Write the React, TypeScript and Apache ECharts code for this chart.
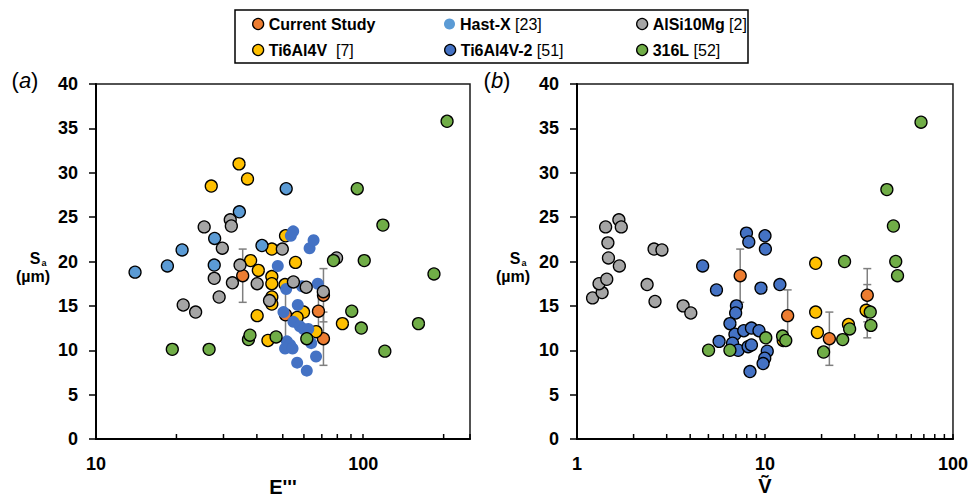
import React, { useEffect, useRef } from 'react';
import * as echarts from 'echarts';

const FONT = "'Liberation Sans', Arial, Helvetica, sans-serif";

// ---------- Panel (a): x = E''' ----------
const currentA = [[35.4, 18.4], [51.2, 14.0], [68.0, 14.4], [71.0, 16.2], [71.0, 11.3]];
const currentErr = [3.0, 2.9, 3.0, 3.0, 3.0];
const hastxA = [[14.0, 18.8], [18.5, 19.5], [21.0, 21.3], [27.8, 22.6], [27.7, 19.6], [34.4, 25.6], [41.8, 21.8], [51.5, 28.2]];
const alsiA = [[25.4, 23.9], [31.8, 24.7], [32.1, 24.0], [29.7, 21.5], [27.7, 18.1], [28.9, 16.0], [21.2, 15.1], [23.6, 14.3], [32.4, 17.6], [34.6, 19.6], [40.1, 17.5], [44.6, 15.6], [49.8, 21.4], [54.8, 17.7], [61.2, 17.1], [70.9, 16.6], [79.5, 20.4]];
const ti64A = [[34.3, 31.0], [36.9, 29.3], [27.0, 28.5], [45.5, 21.4], [51.2, 22.9], [37.9, 20.1], [40.5, 19.0], [45.5, 18.3], [45.5, 17.5], [45.5, 16.0], [45.5, 15.2], [40.1, 13.9], [44.0, 11.1], [55.8, 19.9], [51.0, 17.4], [59.8, 14.3], [56.6, 13.7], [66.6, 12.1], [83.6, 13.0]];
const ti642A = [[53.6, 22.9], [54.7, 23.4], [63.0, 21.5], [65.2, 22.4], [47.9, 19.5], [51.5, 16.9], [59.0, 17.2], [67.6, 17.5], [50.3, 14.3], [56.9, 15.1], [54.8, 13.2], [57.9, 12.7], [59.8, 12.4], [62.3, 12.4], [63.9, 10.8], [51.8, 11.0], [53.3, 10.6], [51.0, 10.2], [54.4, 10.2], [66.6, 9.3], [56.6, 8.6], [61.5, 7.7]];
const ss316A = [[19.3, 10.1], [26.5, 10.1], [37.2, 11.2], [37.7, 11.7], [47.2, 11.5], [61.5, 11.3], [77.4, 20.1], [100.9, 20.1], [90.6, 14.4], [98.4, 12.5], [161, 13.0], [120.5, 9.9], [184, 18.6], [95, 28.2], [118.5, 24.1], [206, 35.8]];

// ---------- Panel (b): x = V~ ----------
const currentB = [[7.38, 18.4], [13.2, 13.9], [35.0, 14.4], [35.0, 16.2], [22.0, 11.3]];
const alsiB = [[1.21, 15.9], [1.36, 16.5], [1.31, 17.5], [1.44, 18.0], [1.68, 19.5], [1.47, 20.4], [1.46, 22.1], [1.42, 23.9], [1.67, 24.7], [1.72, 23.9], [2.57, 21.4], [2.83, 21.3], [2.36, 17.4], [2.6, 15.5], [3.67, 15.0], [4.03, 14.2]];
const ti64B = [[18.6, 19.8], [18.6, 14.3], [19.0, 12.0], [27.8, 12.9], [12.5, 11.1], [34.5, 14.5]];
const ti642B = [[7.97, 23.2], [8.2, 22.2], [10.0, 22.9], [10.05, 21.4], [4.66, 19.5], [5.52, 16.8], [9.52, 17.0], [12.0, 17.4], [7.05, 15.0], [6.98, 14.2], [6.51, 13.0], [6.92, 11.8], [7.71, 12.2], [8.47, 12.5], [9.29, 12.2], [5.7, 11.0], [6.72, 10.8], [7.2, 10.0], [8.13, 10.4], [8.47, 10.6], [10.28, 9.9], [9.97, 9.1], [9.77, 8.5], [8.32, 7.6]];
const ss316B = [[5.01, 10.0], [6.51, 10.0], [10.1, 11.4], [12.4, 11.6], [12.9, 11.1], [20.5, 9.8], [25.9, 11.2], [28.2, 12.4], [26.5, 20.0], [36.3, 14.3], [36.6, 12.8], [49.6, 20.0], [50.7, 18.4], [48.2, 24.0], [44.5, 28.1], [67.6, 35.7]];

// minor tick positions on the log x axes
const minorTicksA = [20, 30, 40, 50, 60, 70, 80, 90, 200];
const minorTicksB = [2, 3, 4, 5, 6, 7, 8, 9, 20, 30, 40, 50, 60, 70, 80, 90];

const NAMES = ['Current Study', 'Hast-X', 'AlSi10Mg', 'Ti6Al4V', 'Ti6Al4V-2', '316L'];
const REFS = ['', '[23]', '[2]', '[7]', '[51]', '[52]'];
const COLORS: Record<string, string> = {
  'Current Study': '#ED7D31',
  'Hast-X': '#5B9BD5',
  'AlSi10Mg': '#A5A5A5',
  'Ti6Al4V': '#FFC000',
  'Ti6Al4V-2': '#4472C4',
  '316L': '#70AD47',
};

function scatter(name: string, data: number[][], idx: number, border = true, z = 3) {
  return {
    type: 'scatter',
    name,
    xAxisIndex: idx,
    yAxisIndex: idx,
    data,
    symbol: 'circle',
    symbolSize: 12,
    z,
    itemStyle: {
      color: COLORS[name],
      borderColor: border ? '#000' : COLORS[name],
      borderWidth: border ? 1.3 : 0,
      opacity: 1,
    },
    emphasis: { disabled: true },
  };
}

function errorBars(data: number[][], idx: number) {
  return {
    type: 'custom',
    name: 'errbars' + idx,
    xAxisIndex: idx,
    yAxisIndex: idx,
    data: data.map((d, i) => [d[0], d[1], currentErr[i]]),
    encode: { x: 0, y: 1 },
    silent: true,
    z: 2,
    renderItem: (params: any, api: any) => {
      const x = api.value(0);
      const y = api.value(1);
      const e = api.value(2);
      const t = api.coord([x, y + e]);
      const b = api.coord([x, y - e]);
      const w = 4;
      const st = { stroke: '#7F7F7F', lineWidth: 1.5 };
      return {
        type: 'group',
        children: [
          { type: 'line', shape: { x1: t[0], y1: t[1], x2: b[0], y2: b[1] }, style: st },
          { type: 'line', shape: { x1: t[0] - w, y1: t[1], x2: t[0] + w, y2: t[1] }, style: st },
          { type: 'line', shape: { x1: b[0] - w, y1: b[1], x2: b[0] + w, y2: b[1] }, style: st },
        ],
      };
    },
  };
}

function minorTicks(vals: number[], idx: number) {
  return {
    type: 'custom',
    name: 'minor' + idx,
    xAxisIndex: idx,
    yAxisIndex: idx,
    data: vals.map((v) => [v, 0]),
    encode: { x: 0, y: 1 },
    silent: true,
    z: 5,
    renderItem: (params: any, api: any) => {
      const p = api.coord([api.value(0), 0]);
      return {
        type: 'line',
        shape: { x1: p[0], y1: p[1], x2: p[0], y2: p[1] - 5 },
        style: { stroke: '#000', lineWidth: 1.5 },
      };
    },
  };
}

const isPow10 = (v: number) => Math.abs(Math.log10(v) - Math.round(Math.log10(v))) < 1e-6;

function xAxis(idx: number, min: number, max: number) {
  return {
    type: 'log',
    logBase: 10,
    gridIndex: idx,
    min,
    max,
    axisLine: { onZero: false, lineStyle: { color: '#000', width: 2 } },
    axisTick: { inside: true, length: 5, lineStyle: { color: '#000', width: 1.5 } },
    axisLabel: {
      margin: 16,
      color: '#000',
      fontFamily: FONT,
      fontWeight: 'bold',
      fontSize: 18,
      formatter: (v: number) => (isPow10(v) ? String(Math.round(v)) : ''),
    },
    splitLine: { show: false },
    minorTick: { show: false },
  };
}

function yAxis(idx: number) {
  return {
    type: 'value',
    gridIndex: idx,
    min: 0,
    max: 40,
    interval: 5,
    axisLine: { show: true, onZero: false, lineStyle: { color: '#000', width: 2 } },
    axisTick: { show: true, inside: false, length: 7, lineStyle: { color: '#000', width: 1.5 } },
    axisLabel: { margin: 18, color: '#000', fontFamily: FONT, fontWeight: 'bold', fontSize: 18 },
    splitLine: { show: false },
  };
}

const legendCols = [252, 444, 636];
const legendRows = [16, 42];

function legends() {
  return NAMES.map((name, i) => {
    const col = i % 3;
    const row = Math.floor(i / 3);
    const ref = REFS[i];
    const spacer = name === 'Ti6Al4V' ? '  ' : ' ';
    return {
      data: [
        {
          name,
          icon: 'circle',
          itemStyle: {
            color: COLORS[name],
            borderColor: name === 'Hast-X' ? COLORS[name] : '#000',
            borderWidth: name === 'Hast-X' ? 0 : 1.3,
          },
        },
      ],
      left: legendCols[col],
      top: legendRows[row],
      padding: 0,
      itemWidth: 11,
      itemHeight: 11,
      itemGap: 0,
      selectedMode: false,
      formatter: () => (ref ? `{b|${name}}{n|${spacer}${ref}}` : `{b|${name}}`),
      textStyle: {
        color: '#000',
        fontFamily: FONT,
        rich: {
          b: { fontWeight: 'bold', fontSize: 16, fontFamily: FONT, color: '#000' },
          n: { fontWeight: 'normal', fontSize: 16, fontFamily: FONT, color: '#000' },
        },
      },
    };
  });
}

function txt(text: string, x: number, y: number, font: string, align = 'center') {
  return {
    type: 'text',
    x,
    y,
    silent: true,
    style: { text, font, fill: '#000', textAlign: align, textVerticalAlign: 'middle' },
  };
}

const option: any = {
  animation: false,
  backgroundColor: '#fff',
  textStyle: { fontFamily: FONT },
  grid: [
    { left: 96, top: 84, width: 374, height: 355, show: true, borderColor: '#1a1a1a', borderWidth: 1.5, backgroundColor: 'transparent' },
    { left: 577, top: 84, width: 379, height: 355, show: true, borderColor: '#1a1a1a', borderWidth: 1.5, backgroundColor: 'transparent' },
  ],
  xAxis: [xAxis(0, 10, 251), xAxis(1, 1, 100)],
  yAxis: [yAxis(0), yAxis(1)],
  legend: legends(),
  series: [
    minorTicks(minorTicksA, 0),
    minorTicks(minorTicksB, 1),
    errorBars(currentA, 0),
    errorBars(currentB, 1),
    scatter('Current Study', currentA, 0, true, 3),
    scatter('Ti6Al4V', ti64A, 0, true, 4),
    scatter('Hast-X', hastxA, 0, true, 4),
    scatter('Ti6Al4V-2', ti642A, 0, false, 4),
    scatter('AlSi10Mg', alsiA, 0, true, 4),
    scatter('316L', ss316A, 0, true, 4),
    scatter('Current Study', currentB, 1, true, 3),
    scatter('Ti6Al4V', ti64B, 1, true, 4),
    scatter('Ti6Al4V-2', ti642B, 1, true, 4),
    scatter('AlSi10Mg', alsiB, 1, true, 4),
    scatter('316L', ss316B, 1, true, 4),
  ],
  graphic: [
    { type: 'rect', shape: { x: 235, y: 10, width: 513, height: 53 }, style: { fill: 'none', stroke: '#000', lineWidth: 1.5 }, silent: true, z: -1 },
    // panel (a) labels
    { type: 'text', x: 25, y: 80, silent: true, style: { text: '{n|(}{i|a}{n|)}', textAlign: 'center', textVerticalAlign: 'middle', rich: { n: { font: `22px ${FONT}`, fill: '#000' }, i: { font: `italic 22px ${FONT}`, fill: '#000' } } } },
    txt('S', 35, 258, `bold 16px ${FONT}`),
    txt('a', 44, 263, `bold 9px ${FONT}`),
    txt('(µm)', 33, 276, `bold 16px ${FONT}`),
    txt("E'''", 283, 487, `bold 20px ${FONT}`),
    // panel (b) labels
    { type: 'text', x: 497, y: 80, silent: true, style: { text: '{n|(}{i|b}{n|)}', textAlign: 'center', textVerticalAlign: 'middle', rich: { n: { font: `22px ${FONT}`, fill: '#000' }, i: { font: `italic 22px ${FONT}`, fill: '#000' } } } },
    txt('S', 515, 258, `bold 16px ${FONT}`),
    txt('a', 524, 263, `bold 9px ${FONT}`),
    txt('(µm)', 513, 276, `bold 16px ${FONT}`),
    txt('Ṽ', 765, 486, `bold 20px ${FONT}`),
  ],
};

export default function App() {
  const ref = useRef<HTMLDivElement>(null);
  useEffect(() => {
    if (!ref.current) return;
    const chart = echarts.init(ref.current, null, { renderer: 'svg' });
    chart.setOption(option);
    return () => chart.dispose();
  }, []);
  return <div ref={ref} style={{ position: 'absolute', left: 0, top: 0, width: 971, height: 500 }} />;
}
